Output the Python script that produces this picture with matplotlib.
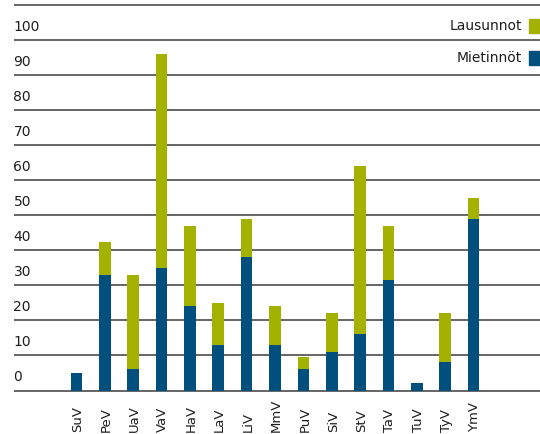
import matplotlib
matplotlib.use("Agg")
import matplotlib.pyplot as plt
import matplotlib.transforms as mtransforms
from matplotlib.patches import Rectangle
import numpy as np

# data
valiokunnat = ["SuV", "PeV", "UaV", "VaV", "HaV", "LaV", "LiV", "MmV",
               "PuV", "SiV", "StV", "TaV", "TuV", "TyV", "YmV"]
mietinnot = [5, 33, 6, 35, 24, 13, 38, 13, 6, 11, 16, 31.5, 2, 8, 49]
lausunnot = [0, 9.5, 27, 61, 23, 12, 11, 11, 3.5, 11, 48, 15.5, 0, 14, 6]
yticks = list(range(0, 111, 10))

green = "#a3b100"
blue = "#004f7d"
gridc = "#3c3c3c"
textc = "#1e1e1e"

plt.rcParams["font.family"] = ["DejaVu Sans"]

W, H = 540, 434
fig = plt.figure(figsize=(W / 100, H / 100), dpi=100)
# axes placed in pixels: left 13.5, right 540, zero line at y=390.5, 110 at y=5
ax = fig.add_axes([13.5 / W, (H - 390.5) / H, (W - 13.5) / W, 385.5 / H])

x = np.arange(len(valiokunnat))
ax.bar(x, mietinnot, width=0.41, color=blue, zorder=3)
ax.bar(x, lausunnot, width=0.41, bottom=mietinnot, color=green, zorder=3)

ax.set_xlim(-2.214, 16.34)
ax.set_ylim(0, 110)

# horizontal rules
ax.hlines(yticks, -2.214, 16.34, colors=gridc, linewidth=1.1, zorder=1, clip_on=False)

# y labels sit just above each rule
for v in yticks[:-1]:
    ax.annotate(str(v), xy=(0, v), xycoords=("axes fraction", "data"),
                xytext=(0, 4.5), textcoords="offset points",
                ha="left", va="bottom", fontsize=10, color=textc)

# category labels, rotated, anchored near the bottom of the picture
trans = mtransforms.blended_transform_factory(ax.transData, fig.transFigure)
for i, name in enumerate(valiokunnat):
    ax.text(x[i] + 0.05, 0.004, name, transform=trans, rotation=90,
            ha="center", va="bottom", fontsize=9.5, color=textc, clip_on=False)

for s in ax.spines.values():
    s.set_visible(False)
ax.set_xticks([])
ax.set_yticks([])

# legend, top right
for lab, col, yc in [("Lausunnot", green, 26), ("Mietinnöt", blue, 58)]:
    fig.text(522 / W, 1 - yc / H, lab, ha="right", va="center",
             fontsize=10, color=textc)
    fig.patches.append(Rectangle((529 / W, 1 - (yc + 7) / H), 12 / W, 14 / H,
                                 transform=fig.transFigure, color=col))

fig.savefig("out.png", dpi=100)
